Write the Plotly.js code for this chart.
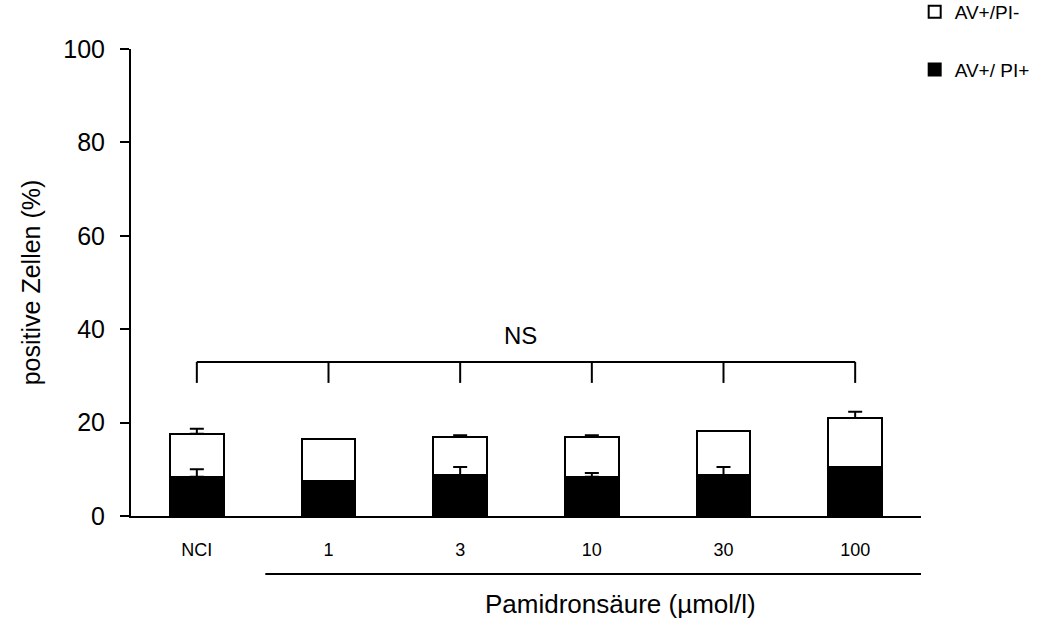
<!DOCTYPE html>
<html>
<head>
<meta charset="utf-8">
<script src="https://cdn.plot.ly/plotly-3.0.1.min.js"></script>
<style>html,body{margin:0;padding:0;background:#fff;}</style>
</head>
<body>
<div id="chart" style="width:1064px;height:621px;"></div>
<script>
// ---- data ----
var categories = ["NCI", "1", "3", "10", "30", "100"];
var blackValues = [8.4, 7.6, 8.8, 8.4, 8.8, 10.6];      // AV+/ PI+
var totalValues = [17.6, 16.4, 16.9, 16.9, 18.3, 21.0]; // stack top
var blackErr = [1.6, null, 1.7, 0.8, 1.7, null];
var totalErr = [1.1, null, 0.4, 0.4, null, 1.3];
var seriesNames = ["AV+/ PI+", "AV+/PI-"];
var bracketLevel = 33;
var bracketDrop = 28.5;
var nsLevel = 38.7;

var whiteValues = totalValues.map(function (t, i) { return +(t - blackValues[i]).toFixed(2); });
var xIdx = categories.map(function (c, i) { return i; });

function errTrace(values, errs) {
  var xs = [], ys = [], es = [], zs = [];
  errs.forEach(function (e, i) {
    if (e !== null) { xs.push(i); ys.push(values[i]); es.push(e); zs.push(0); }
  });
  return {
    type: "scatter", mode: "markers", x: xs, y: ys, showlegend: false,
    marker: { opacity: 0, size: 1 }, hoverinfo: "skip",
    error_y: { type: "data", array: es, arrayminus: zs, symmetric: false,
               color: "#000", thickness: 2, width: 7 }
  };
}

var barLine = { color: "#000", width: 2 };

var traces = [
  {
    type: "bar", name: seriesNames[0], x: xIdx, y: blackValues,
    marker: { color: "#000", line: barLine }, width: 0.41,
    legendgroup: "b", legendrank: 2, hoverinfo: "y"
  },
  {
    type: "bar", name: seriesNames[1], x: xIdx, y: whiteValues,
    marker: { color: "#fff", line: barLine }, width: 0.41,
    legendgroup: "w", legendrank: 1, hoverinfo: "y"
  },
  errTrace(blackValues, blackErr),
  errTrace(totalValues, totalErr)
];

var shapes = [{
  type: "line", xref: "x", yref: "y", x0: 0, x1: categories.length - 1,
  y0: bracketLevel, y1: bracketLevel, line: { color: "#000", width: 2 }
}];
xIdx.forEach(function (i) {
  shapes.push({ type: "line", xref: "x", yref: "y", x0: i, x1: i,
    y0: bracketLevel, y1: bracketDrop, line: { color: "#000", width: 2 } });
});
shapes.push({ type: "line", xref: "paper", yref: "paper", x0: 0.17, x1: 1.0,
  y0: -0.124, y1: -0.124, line: { color: "#000", width: 2 } });

var font = "Liberation Sans, Arial, sans-serif";

var layout = {
  width: 1064, height: 621,
  margin: { l: 131, r: 143, t: 49, b: 105, autoexpand: false },
  paper_bgcolor: "#fff", plot_bgcolor: "#fff",
  barmode: "stack",
  font: { family: font, color: "#000" },
  showlegend: true,
  legend: { x: 0.992, xanchor: "left", y: 1.12, yanchor: "top",
            traceorder: "grouped", tracegroupgap: 30,
            font: { size: 19, family: font, color: "#000" } },
  xaxis: {
    type: "linear", range: [-0.5, 5.5],
    tickmode: "array", tickvals: xIdx, ticktext: categories,
    showgrid: false, zeroline: false, showline: true, linecolor: "#000", linewidth: 2,
    ticks: "", ticklabelstandoff: 16,
    tickfont: { size: 18, family: font, color: "#000" }
  },
  yaxis: {
    range: [0, 100], tickvals: [0, 20, 40, 60, 80, 100],
    showgrid: false, zeroline: false, showline: true, linecolor: "#000", linewidth: 2,
    ticks: "outside", ticklen: 9, tickwidth: 2, tickcolor: "#000", ticklabelstandoff: 10,
    tickfont: { size: 25, family: font, color: "#000" },
    title: { text: "positive Zellen (%)", font: { size: 25, family: font, color: "#000" }, standoff: 16 }
  },
  shapes: shapes,
  annotations: [
    { xref: "x", yref: "y", x: 2.46, y: nsLevel, text: "NS", showarrow: false,
      font: { size: 24, family: font, color: "#000" } },
    { xref: "paper", yref: "paper", x: 0.619, y: -0.188, yanchor: "middle",
      text: "Pamidronsäure (µmol/l)",
      showarrow: false, font: { size: 26, family: font, color: "#000" } }
  ]
};

Plotly.newPlot("chart", traces, layout, { displayModeBar: false, staticPlot: true });
</script>
</body>
</html>
